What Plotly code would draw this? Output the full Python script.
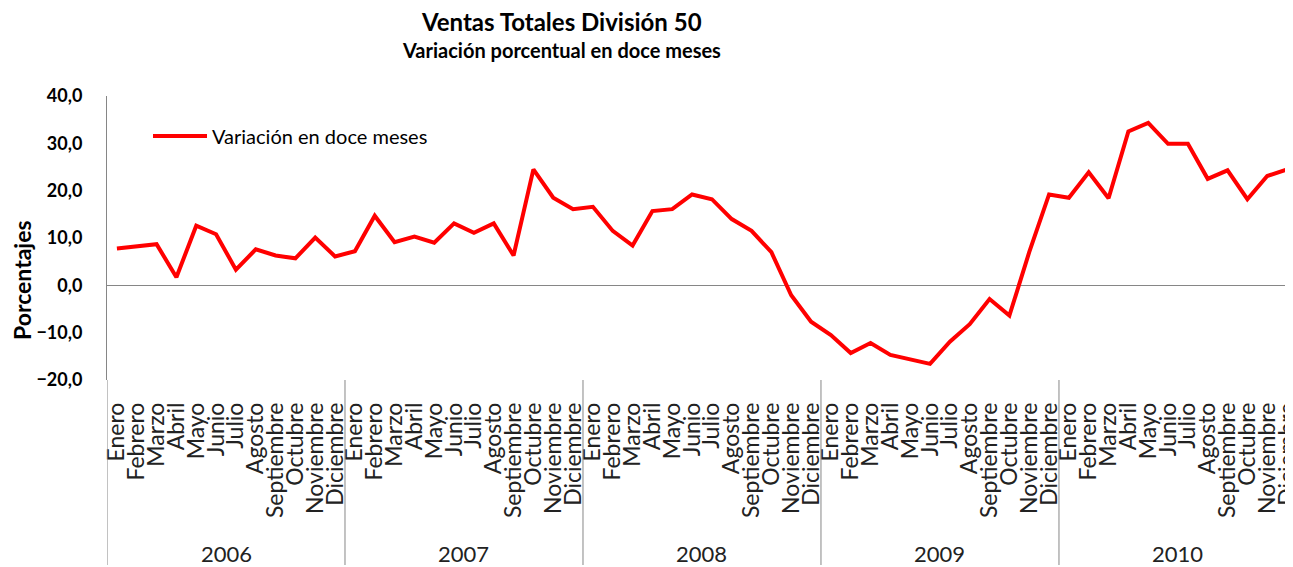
import plotly.graph_objects as go

years = ["2006", "2007", "2008", "2009", "2010"]
months = ["Enero", "Febrero", "Marzo", "Abril", "Mayo", "Junio", "Julio",
          "Agosto", "Septiembre", "Octubre", "Noviembre", "Diciembre"]

v2006 = [7.8, 8.3, 8.7, 1.7, 12.6, 10.8, 3.3, 7.6, 6.3, 5.7, 10.1, 6.1]
v2007 = [7.2, 14.7, 9.1, 10.3, 9.0, 13.1, 11.1, 13.1, 6.3, 24.5, 18.5, 16.1]
v2008 = [16.6, 11.5, 8.4, 15.7, 16.1, 19.2, 18.2, 14.0, 11.5, 7.0, -2.1, -7.7]
v2009 = [-10.5, -14.3, -12.2, -14.7, -15.6, -16.6, -11.9, -8.2, -2.9, -6.4, 7.0, 19.2]
v2010 = [18.5, 23.9, 18.4, 32.5, 34.3, 29.9, 29.9, 22.5, 24.3, 18.2, 23.1, 24.5]

values = v2006 + v2007 + v2008 + v2009 + v2010
n = len(values)
xs = list(range(n))
tick_text = months * len(years)

FONT = "Lato"
GRAY = "#868686"

# figure geometry (page has an 8px body margin)
W, H = 1285, 559
ML, MR, MT, MB = 99, 0, 88, 187
PW = W - ML - MR
PH = H - MT - MB


def px_x(p):
    return (p - ML) / PW


def px_y(p):
    return (H - MB - p) / PH


fig = go.Figure()
fig.add_trace(go.Scatter(
    x=xs, y=values, mode="lines",
    line=dict(color="#FF0000", width=4),
    name="Variación en doce meses",
))

shapes = []
nm = len(months)
for i in range(len(years) + 1):
    shapes.append(dict(type="line", xref="x", yref="paper",
                       x0=-0.5 + nm * i, x1=-0.5 + nm * i,
                       y0=0, y1=px_y(557),
                       line=dict(color=GRAY, width=1)))

annotations = []
for i, yr in enumerate(years):
    annotations.append(dict(x=(nm - 1) / 2 + nm * i, xref="x", y=px_y(545), yref="paper",
                            xanchor="center", yanchor="middle",
                            text=yr, showarrow=False,
                            font=dict(family=FONT, size=22, color="#222")))
annotations.append(dict(x=px_x(14), xref="paper", y=px_y(272), yref="paper",
                        xanchor="center", yanchor="middle",
                        text="<b>Porcentajes</b>", textangle=-90, showarrow=False,
                        font=dict(family=FONT, size=23, color="#000")))
annotations.append(dict(x=px_x(553), xref="paper", y=px_y(13), yref="paper",
                        xanchor="center", yanchor="middle",
                        text="<b>Ventas Totales División 50</b>", showarrow=False,
                        font=dict(family=FONT, size=24, color="#000")))
annotations.append(dict(x=px_x(553), xref="paper", y=px_y(42), yref="paper",
                        xanchor="center", yanchor="middle",
                        text="<b>Variación porcentual en doce meses</b>", showarrow=False,
                        font=dict(family=FONT, size=20, color="#000")))

fig.update_layout(
    width=W, height=H,
    margin=dict(l=ML, r=MR, t=MT, b=MB, autoexpand=False),
    paper_bgcolor="white", plot_bgcolor="white",
    separators=",.",
    showlegend=True,
    legend=dict(x=px_x(140), y=px_y(128), xanchor="left", yanchor="middle",
                itemwidth=54,
                bgcolor="rgba(0,0,0,0)",
                font=dict(family=FONT, size=20, color="#000")),
    xaxis=dict(range=[-0.5, 59.3], tickmode="array", tickvals=xs, ticktext=tick_text,
               tickangle=-90, showgrid=False, zeroline=False, showline=False,
               ticks="", ticklabelstandoff=17, ticklabeloverflow="allow",
               tickfont=dict(family=FONT, size=23, color="#222")),
    yaxis=dict(range=[-20, 40], dtick=10, tickformat=".1f", showgrid=False,
               zeroline=True, zerolinecolor=GRAY, zerolinewidth=1,
               showline=True, linecolor=GRAY, linewidth=1, ticks="",
               ticklabelstandoff=20,
               tickfont=dict(family=FONT, size=18, color="#000", weight="bold")),
    shapes=shapes,
    annotations=annotations,
)

fig.write_html("out.html")
